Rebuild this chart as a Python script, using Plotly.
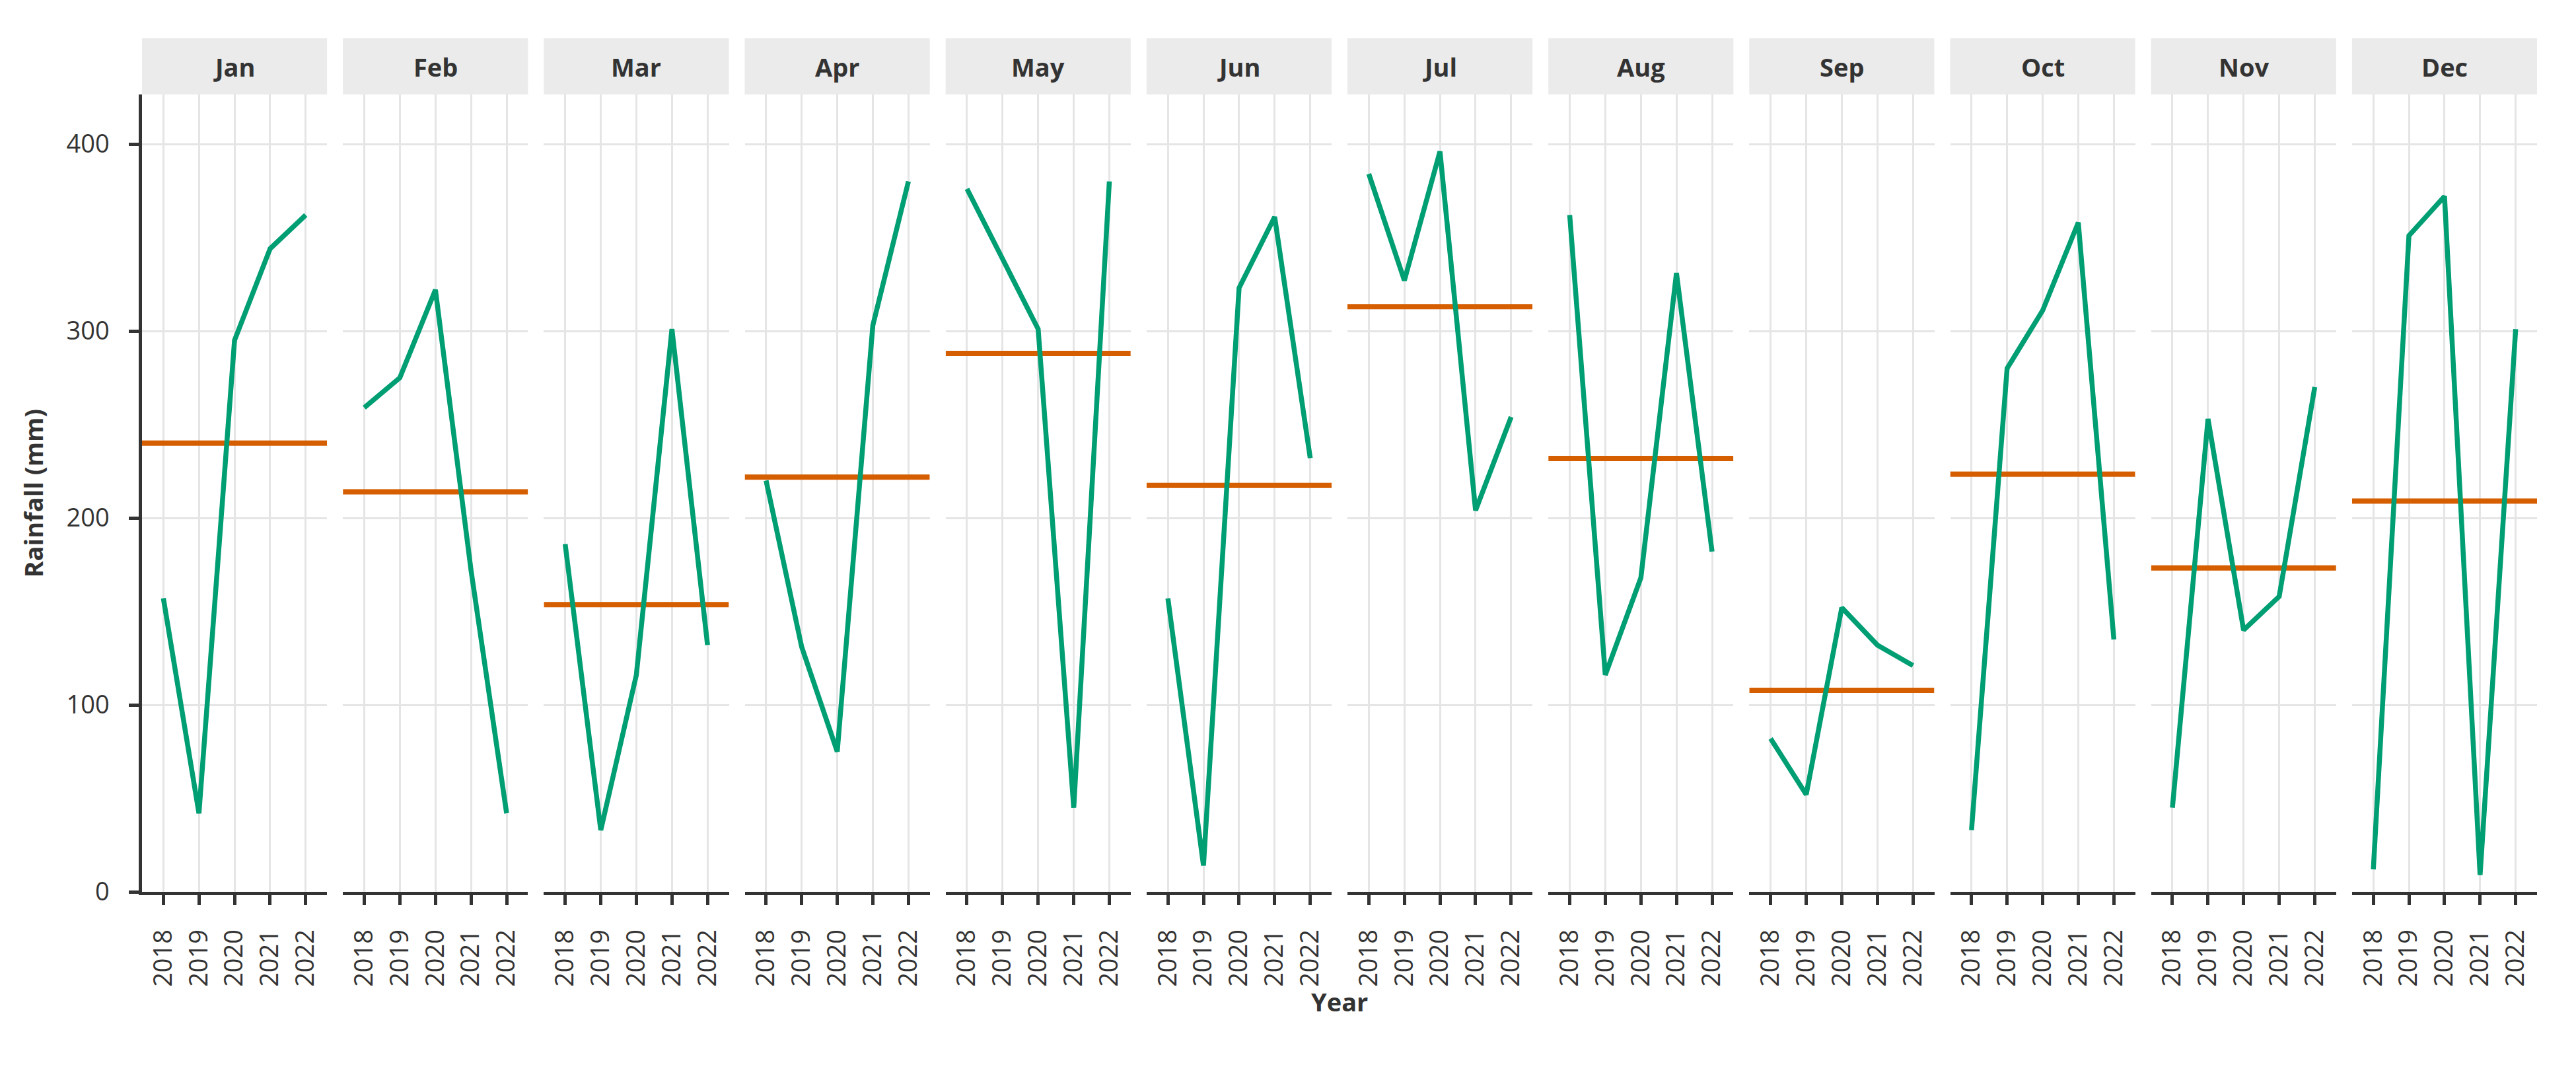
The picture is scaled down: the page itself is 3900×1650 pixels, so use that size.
import plotly.graph_objects as go
from plotly.subplots import make_subplots

# monthly rainfall (mm) per year
years = [2018, 2019, 2020, 2021, 2022]
months = ["Jan", "Feb", "Mar", "Apr", "May", "Jun",
          "Jul", "Aug", "Sep", "Oct", "Nov", "Dec"]

jan = [157, 42, 295, 344, 362]
feb = [259, 275, 322, 172, 42]
mar = [186, 33, 116, 301, 132]
apr = [220, 131, 75, 303, 380]
may = [376, 338, 301, 45, 380]
jun = [157, 14, 323, 361, 232]
jul = [384, 327, 396, 204, 254]
aug = [362, 116, 168, 331, 182]
sep = [82, 52, 152, 132, 121]
oct_ = [33, 280, 311, 358, 135]
nov = [45, 253, 140, 158, 270]
dec = [12, 351, 372, 9, 301]

rainfall = [jan, feb, mar, apr, may, jun, jul, aug, sep, oct_, nov, dec]

GREEN = "#009E73"
ORANGE = "#D55E00"
DARK = "#333333"
GRID = "#E5E5E5"
FONT = "Open Sans"

W, H = 3900, 1650
L, R, T, B = 207, 67, 135, 308
plot_w = W - L - R
plot_h = H - T - B
gap = 24 / plot_w
strip_h = 85 / plot_h
x_range = [years[0] - 0.6, years[-1] + 0.6]  # like ggplot's discrete expansion

fig = make_subplots(rows=1, cols=12, shared_yaxes=True, horizontal_spacing=gap)

for i, (month, vals) in enumerate(zip(months, rainfall), start=1):
    mean = sum(vals) / len(vals)
    # average line across the whole panel, drawn first so it sits under the series
    fig.add_trace(go.Scatter(x=x_range, y=[mean, mean], mode="lines", showlegend=False,
                             hoverinfo="skip", line=dict(color=ORANGE, width=8)),
                  row=1, col=i)
    fig.add_trace(go.Scatter(x=years, y=vals, mode="lines", showlegend=False,
                             line=dict(color=GREEN, width=7.5)), row=1, col=i)
    xr = "x domain" if i == 1 else f"x{i} domain"
    # facet strip
    fig.add_shape(type="rect", xref=xr, yref="paper", x0=0, x1=1, y0=1, y1=1 + strip_h,
                  fillcolor="#EBEBEB", line=dict(width=0))
    fig.add_annotation(xref=xr, yref="paper", x=0.5, y=1 + strip_h / 2, text=f"<b>{month}</b>",
                       showarrow=False, xanchor="center", yanchor="middle",
                       font=dict(family=FONT, size=38, color=DARK))

fig.update_xaxes(range=x_range, tickvals=years, ticktext=[str(y) for y in years],
                 tickangle=-90, ticks="outside", ticklen=15, tickwidth=4.5, tickcolor=DARK,
                 showline=True, linecolor=DARK, linewidth=4.5, mirror=False,
                 showgrid=True, gridcolor=GRID, gridwidth=3, zeroline=False,
                 ticklabelstandoff=22,
                 tickfont=dict(family=FONT, size=38, color=DARK))
fig.update_yaxes(range=[0, 426.5], tickvals=[0, 100, 200, 300, 400],
                 showgrid=True, gridcolor=GRID, gridwidth=3, zeroline=False,
                 showline=False, ticks="", showticklabels=False)
fig.update_yaxes(row=1, col=1, showline=True, linecolor=DARK, linewidth=4.5,
                 ticks="outside", ticklen=15, tickwidth=4.5, tickcolor=DARK,
                 showticklabels=True, ticklabelstandoff=22,
                 tickfont=dict(family=FONT, size=38, color=DARK))

fig.add_annotation(xref="paper", yref="paper", x=(41 - L) / plot_w, y=0.5,
                   text="<b>Rainfall (mm)</b>", textangle=-90, showarrow=False,
                   xanchor="center", yanchor="middle",
                   font=dict(family=FONT, size=38, color=DARK))
fig.add_annotation(xref="paper", yref="paper", x=0.5, y=-(1508 - (H - B)) / plot_h,
                   text="<b>Year</b>", showarrow=False, xanchor="center", yanchor="middle",
                   font=dict(family=FONT, size=38, color=DARK))

fig.update_layout(width=W, height=H, margin=dict(l=L, r=R, t=T, b=B),
                  plot_bgcolor="white", paper_bgcolor="white")

fig.write_html("out.html")
